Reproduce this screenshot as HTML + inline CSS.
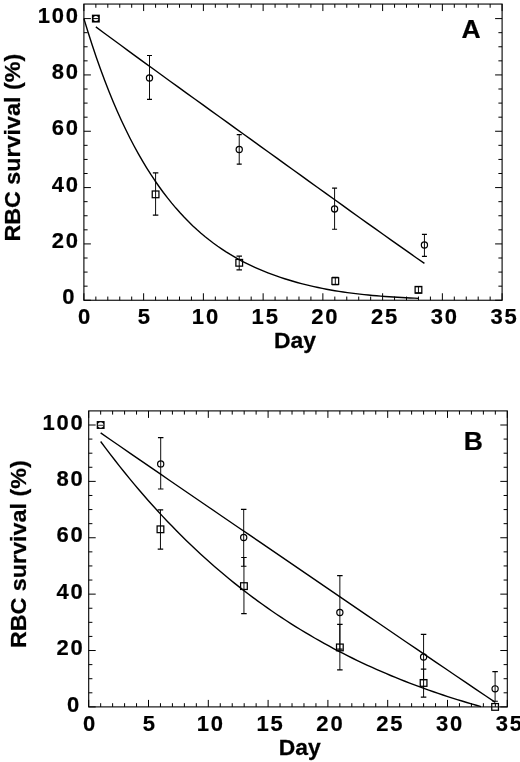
<!DOCTYPE html>
<html><head><meta charset="utf-8"><title>RBC survival</title>
<style>
html,body{margin:0;padding:0;background:#fff}
svg{display:block;will-change:transform}
text{font-family:"Liberation Sans",sans-serif;font-weight:bold;fill:#000}
.t{font-size:22px;letter-spacing:1.8px;stroke:#000;stroke-width:.2px}
.l{font-size:22px;stroke:#000;stroke-width:.25px}
.p{font-size:26.5px;stroke:#000;stroke-width:.2px}
</style></head><body>
<svg width="520" height="762" viewBox="0 0 520 762">
<rect width="520" height="762" fill="#fff"/>
<rect x="83.90" y="4.05" width="418.20" height="296.20" fill="none" stroke="#000" stroke-width="1.1"/>
<path d="M83.90 300.25v-7M83.90 4.05v7M95.85 300.25v-3.7M95.85 4.05v3.7M107.80 300.25v-3.7M107.80 4.05v3.7M119.75 300.25v-3.7M119.75 4.05v3.7M131.69 300.25v-3.7M131.69 4.05v3.7M143.64 300.25v-7M143.64 4.05v7M155.59 300.25v-3.7M155.59 4.05v3.7M167.54 300.25v-3.7M167.54 4.05v3.7M179.49 300.25v-3.7M179.49 4.05v3.7M191.44 300.25v-3.7M191.44 4.05v3.7M203.39 300.25v-7M203.39 4.05v7M215.33 300.25v-3.7M215.33 4.05v3.7M227.28 300.25v-3.7M227.28 4.05v3.7M239.23 300.25v-3.7M239.23 4.05v3.7M251.18 300.25v-3.7M251.18 4.05v3.7M263.13 300.25v-7M263.13 4.05v7M275.08 300.25v-3.7M275.08 4.05v3.7M287.03 300.25v-3.7M287.03 4.05v3.7M298.97 300.25v-3.7M298.97 4.05v3.7M310.92 300.25v-3.7M310.92 4.05v3.7M322.87 300.25v-7M322.87 4.05v7M334.82 300.25v-3.7M334.82 4.05v3.7M346.77 300.25v-3.7M346.77 4.05v3.7M358.72 300.25v-3.7M358.72 4.05v3.7M370.67 300.25v-3.7M370.67 4.05v3.7M382.61 300.25v-7M382.61 4.05v7M394.56 300.25v-3.7M394.56 4.05v3.7M406.51 300.25v-3.7M406.51 4.05v3.7M418.46 300.25v-3.7M418.46 4.05v3.7M430.41 300.25v-3.7M430.41 4.05v3.7M442.36 300.25v-7M442.36 4.05v7M454.31 300.25v-3.7M454.31 4.05v3.7M466.25 300.25v-3.7M466.25 4.05v3.7M478.20 300.25v-3.7M478.20 4.05v3.7M490.15 300.25v-3.7M490.15 4.05v3.7M502.10 300.25v-7M502.10 4.05v7M83.90 300.25h7M502.10 300.25h-7M83.90 286.17h3.7M502.10 286.17h-3.7M83.90 272.08h3.7M502.10 272.08h-3.7M83.90 258.00h3.7M502.10 258.00h-3.7M83.90 243.92h7M502.10 243.92h-7M83.90 229.84h3.7M502.10 229.84h-3.7M83.90 215.75h3.7M502.10 215.75h-3.7M83.90 201.67h3.7M502.10 201.67h-3.7M83.90 187.59h7M502.10 187.59h-7M83.90 173.51h3.7M502.10 173.51h-3.7M83.90 159.43h3.7M502.10 159.43h-3.7M83.90 145.34h3.7M502.10 145.34h-3.7M83.90 131.26h7M502.10 131.26h-7M83.90 117.18h3.7M502.10 117.18h-3.7M83.90 103.10h3.7M502.10 103.10h-3.7M83.90 89.01h3.7M502.10 89.01h-3.7M83.90 74.93h7M502.10 74.93h-7M83.90 60.85h3.7M502.10 60.85h-3.7M83.90 46.77h3.7M502.10 46.77h-3.7M83.90 32.68h3.7M502.10 32.68h-3.7M83.90 18.60h7M502.10 18.60h-7" stroke="#000" stroke-width="1" fill="none"/>
<text class="t" transform="translate(85.10,324.25) scale(1.0,1)" text-anchor="middle">0</text>
<text class="t" transform="translate(144.84,324.25) scale(1.0,1)" text-anchor="middle">5</text>
<text class="t" transform="translate(205.89,324.25) scale(1.0,1)" text-anchor="middle">10</text>
<text class="t" transform="translate(265.63,324.25) scale(1.0,1)" text-anchor="middle">15</text>
<text class="t" transform="translate(325.37,324.25) scale(1.0,1)" text-anchor="middle">20</text>
<text class="t" transform="translate(385.11,324.25) scale(1.0,1)" text-anchor="middle">25</text>
<text class="t" transform="translate(444.86,324.25) scale(1.0,1)" text-anchor="middle">30</text>
<text class="t" transform="translate(504.60,324.25) scale(1.0,1)" text-anchor="middle">35</text>
<text class="t" transform="translate(76.30,304.45) scale(1.0,1)" text-anchor="end">0</text>
<text class="t" transform="translate(79.75,248.12) scale(1.0,1)" text-anchor="end">20</text>
<text class="t" transform="translate(79.75,191.79) scale(1.0,1)" text-anchor="end">40</text>
<text class="t" transform="translate(79.75,135.46) scale(1.0,1)" text-anchor="end">60</text>
<text class="t" transform="translate(79.75,79.13) scale(1.0,1)" text-anchor="end">80</text>
<text class="t" transform="translate(79.75,22.80) scale(1.0,1)" text-anchor="end">100</text>
<path d="M95.85 26.85L104.06 32.94L112.28 39.01L120.49 45.05L128.71 51.07L136.92 57.08L145.14 63.06L153.35 69.04L161.57 75.00L169.78 80.95L178.00 86.89L186.21 92.82L194.42 98.75L202.64 104.68L210.85 110.60L219.07 116.52L227.28 122.44L235.50 128.35L243.71 134.27L251.93 140.18L260.14 146.10L268.36 152.01L276.57 157.92L284.79 163.84L293.00 169.75L301.21 175.66L309.43 181.58L317.64 187.48L325.86 193.39L334.07 199.29L342.29 205.18L350.50 211.07L358.72 216.95L366.93 222.82L375.15 228.67L383.36 234.51L391.58 240.34L399.79 246.15L408.00 251.94L416.22 257.70L424.43 263.44" stroke="#000" stroke-width="1.4" fill="none" stroke-linejoin="round"/>
<path d="M83.90 18.60L88.08 32.30L92.26 45.33L96.45 57.74L100.63 69.55L104.81 80.80L108.99 91.51L113.17 101.72L117.36 111.44L121.54 120.70L125.72 129.53L129.90 137.94L134.08 145.95L138.27 153.59L142.45 160.87L146.63 167.81L150.81 174.43L154.99 180.73L159.18 186.74L163.36 192.47L167.54 197.93L171.72 203.13L175.90 208.08L180.09 212.80L184.27 217.29L188.45 221.57L192.63 225.64L196.81 229.52L201.00 233.21L205.18 236.72L209.36 240.06L213.54 243.24L217.72 246.26L221.91 249.13L226.09 251.86L230.27 254.46L234.45 256.93L238.63 259.28L242.82 261.51L247.00 263.64L251.18 265.66L255.36 267.59L259.54 269.42L263.73 271.17L267.91 272.83L272.09 274.42L276.27 275.93L280.45 277.37L284.64 278.74L288.82 280.04L293.00 281.29L297.18 282.47L301.36 283.59L305.55 284.66L309.73 285.67L313.91 286.63L318.09 287.54L322.27 288.40L326.46 289.21L330.64 289.97L334.82 290.69L339.00 291.37L343.18 292.00L347.37 292.60L351.55 293.16L355.73 293.68L359.91 294.17L364.09 294.63L368.28 295.06L372.46 295.45L376.64 295.82L380.82 296.17L385.00 296.49L389.19 296.78L393.37 297.06L397.55 297.32L401.73 297.55L405.91 297.77L410.10 297.98L414.28 298.17L418.46 298.34" stroke="#000" stroke-width="1.4" fill="none" stroke-linejoin="round"/>
<rect x="91.90" y="14.65" width="7.9" height="7.9" fill="#000"/><circle cx="95.85" cy="18.60" r="2.5" fill="#fff"/><path d="M92.85 18.60h6" stroke="#000" stroke-width="1"/>
<path d="M155.59 172.94V215.19" stroke="#000" stroke-width="0.95" fill="none"/><path d="M152.84 172.94h5.5M152.84 215.19h5.5" stroke="#000" stroke-width="1.2" fill="none"/>
<rect x="152.24" y="191.00" width="6.7" height="6.7" fill="none" stroke="#000" stroke-width="1.25"/>
<path d="M239.23 256.03V269.83" stroke="#000" stroke-width="0.95" fill="none"/><path d="M236.48 256.03h5.5M236.48 269.83h5.5" stroke="#000" stroke-width="1.2" fill="none"/>
<rect x="235.88" y="259.44" width="6.7" height="6.7" fill="none" stroke="#000" stroke-width="1.25"/>
<path d="M335.30 277.44V284.76" stroke="#000" stroke-width="0.95" fill="none"/><path d="M332.05 277.44h6.5M332.05 284.76h6.5" stroke="#000" stroke-width="1.2" fill="none"/>
<rect x="331.95" y="277.75" width="6.7" height="6.7" fill="none" stroke="#000" stroke-width="1.25"/>
<path d="M418.46 286.73V292.93" stroke="#000" stroke-width="0.95" fill="none"/><path d="M415.21 286.73h6.5M415.21 292.93h6.5" stroke="#000" stroke-width="1.2" fill="none"/>
<rect x="415.11" y="286.48" width="6.7" height="6.7" fill="none" stroke="#000" stroke-width="1.25"/>
<path d="M149.50 55.50V99.43" stroke="#000" stroke-width="0.95" fill="none"/><path d="M147.00 55.50h5.0M147.00 99.43h5.0" stroke="#000" stroke-width="1.2" fill="none"/>
<circle cx="149.50" cy="78.03" r="3.1" fill="none" stroke="#000" stroke-width="1.2"/>
<path d="M239.23 134.64V164.21" stroke="#000" stroke-width="0.95" fill="none"/><path d="M236.73 134.64h5.0M236.73 164.21h5.0" stroke="#000" stroke-width="1.2" fill="none"/>
<circle cx="239.23" cy="149.57" r="3.1" fill="none" stroke="#000" stroke-width="1.2"/>
<path d="M334.58 188.15V229.27" stroke="#000" stroke-width="0.95" fill="none"/><path d="M332.08 188.15h5.0M332.08 229.27h5.0" stroke="#000" stroke-width="1.2" fill="none"/>
<circle cx="334.58" cy="209.00" r="3.1" fill="none" stroke="#000" stroke-width="1.2"/>
<path d="M424.43 234.34V256.31" stroke="#000" stroke-width="0.95" fill="none"/><path d="M421.93 234.34h5.0M421.93 256.31h5.0" stroke="#000" stroke-width="1.2" fill="none"/>
<circle cx="424.43" cy="245.05" r="3.1" fill="none" stroke="#000" stroke-width="1.2"/>
<rect x="88.70" y="410.90" width="418.60" height="296.00" fill="none" stroke="#000" stroke-width="1.1"/>
<path d="M88.70 706.90v-7M88.70 410.90v7M100.66 706.90v-3.7M100.66 410.90v3.7M112.62 706.90v-3.7M112.62 410.90v3.7M124.58 706.90v-3.7M124.58 410.90v3.7M136.54 706.90v-3.7M136.54 410.90v3.7M148.50 706.90v-7M148.50 410.90v7M160.46 706.90v-3.7M160.46 410.90v3.7M172.42 706.90v-3.7M172.42 410.90v3.7M184.38 706.90v-3.7M184.38 410.90v3.7M196.34 706.90v-3.7M196.34 410.90v3.7M208.30 706.90v-7M208.30 410.90v7M220.26 706.90v-3.7M220.26 410.90v3.7M232.22 706.90v-3.7M232.22 410.90v3.7M244.18 706.90v-3.7M244.18 410.90v3.7M256.14 706.90v-3.7M256.14 410.90v3.7M268.10 706.90v-7M268.10 410.90v7M280.06 706.90v-3.7M280.06 410.90v3.7M292.02 706.90v-3.7M292.02 410.90v3.7M303.98 706.90v-3.7M303.98 410.90v3.7M315.94 706.90v-3.7M315.94 410.90v3.7M327.90 706.90v-7M327.90 410.90v7M339.86 706.90v-3.7M339.86 410.90v3.7M351.82 706.90v-3.7M351.82 410.90v3.7M363.78 706.90v-3.7M363.78 410.90v3.7M375.74 706.90v-3.7M375.74 410.90v3.7M387.70 706.90v-7M387.70 410.90v7M399.66 706.90v-3.7M399.66 410.90v3.7M411.62 706.90v-3.7M411.62 410.90v3.7M423.58 706.90v-3.7M423.58 410.90v3.7M435.54 706.90v-3.7M435.54 410.90v3.7M447.50 706.90v-7M447.50 410.90v7M459.46 706.90v-3.7M459.46 410.90v3.7M471.42 706.90v-3.7M471.42 410.90v3.7M483.38 706.90v-3.7M483.38 410.90v3.7M495.34 706.90v-3.7M495.34 410.90v3.7M507.30 706.90v-7M507.30 410.90v7M88.70 706.90h7M507.30 706.90h-7M88.70 692.80h3.7M507.30 692.80h-3.7M88.70 678.71h3.7M507.30 678.71h-3.7M88.70 664.62h3.7M507.30 664.62h-3.7M88.70 650.52h7M507.30 650.52h-7M88.70 636.42h3.7M507.30 636.42h-3.7M88.70 622.33h3.7M507.30 622.33h-3.7M88.70 608.24h3.7M507.30 608.24h-3.7M88.70 594.14h7M507.30 594.14h-7M88.70 580.04h3.7M507.30 580.04h-3.7M88.70 565.95h3.7M507.30 565.95h-3.7M88.70 551.86h3.7M507.30 551.86h-3.7M88.70 537.76h7M507.30 537.76h-7M88.70 523.66h3.7M507.30 523.66h-3.7M88.70 509.57h3.7M507.30 509.57h-3.7M88.70 495.48h3.7M507.30 495.48h-3.7M88.70 481.38h7M507.30 481.38h-7M88.70 467.28h3.7M507.30 467.28h-3.7M88.70 453.19h3.7M507.30 453.19h-3.7M88.70 439.09h3.7M507.30 439.09h-3.7M88.70 425.00h7M507.30 425.00h-7" stroke="#000" stroke-width="1" fill="none"/>
<text class="t" transform="translate(89.90,730.90) scale(1.0,1)" text-anchor="middle">0</text>
<text class="t" transform="translate(149.70,730.90) scale(1.0,1)" text-anchor="middle">5</text>
<text class="t" transform="translate(210.80,730.90) scale(1.0,1)" text-anchor="middle">10</text>
<text class="t" transform="translate(270.60,730.90) scale(1.0,1)" text-anchor="middle">15</text>
<text class="t" transform="translate(330.40,730.90) scale(1.0,1)" text-anchor="middle">20</text>
<text class="t" transform="translate(390.20,730.90) scale(1.0,1)" text-anchor="middle">25</text>
<text class="t" transform="translate(450.00,730.90) scale(1.0,1)" text-anchor="middle">30</text>
<text class="t" transform="translate(509.80,730.90) scale(1.0,1)" text-anchor="middle">35</text>
<text class="t" transform="translate(81.10,711.50) scale(1.0,1)" text-anchor="end">0</text>
<text class="t" transform="translate(84.55,655.12) scale(1.0,1)" text-anchor="end">20</text>
<text class="t" transform="translate(84.55,598.74) scale(1.0,1)" text-anchor="end">40</text>
<text class="t" transform="translate(84.55,542.36) scale(1.0,1)" text-anchor="end">60</text>
<text class="t" transform="translate(84.55,485.98) scale(1.0,1)" text-anchor="end">80</text>
<text class="t" transform="translate(84.55,429.60) scale(1.0,1)" text-anchor="end">100</text>
<path d="M100.66 432.89L110.53 439.72L120.39 446.54L130.26 453.34L140.13 460.14L150.00 466.92L159.86 473.70L169.73 480.47L179.60 487.23L189.46 493.98L199.33 500.74L209.20 507.48L219.06 514.23L228.93 520.97L238.80 527.71L248.67 534.45L258.53 541.19L268.40 547.93L278.27 554.67L288.13 561.40L298.00 568.14L307.87 574.88L317.73 581.62L327.60 588.35L337.47 595.09L347.33 601.83L357.20 608.56L367.07 615.30L376.94 622.03L386.80 628.76L396.67 635.48L406.54 642.21L416.40 648.93L426.27 655.64L436.14 662.35L446.00 669.04L455.87 675.74L465.74 682.42L475.61 689.09L485.47 695.74L495.34 702.39" stroke="#000" stroke-width="1.4" fill="none" stroke-linejoin="round"/>
<path d="M100.66 441.50L105.41 447.88L110.17 454.14L114.92 460.30L119.68 466.35L124.43 472.28L129.18 478.12L133.94 483.85L138.69 489.47L143.45 495.00L148.20 500.42L152.96 505.75L157.71 510.97L162.46 516.11L167.22 521.15L171.97 526.09L176.73 530.95L181.48 535.71L186.23 540.39L190.99 544.98L195.74 549.48L200.50 553.90L205.25 558.24L210.00 562.50L214.76 566.67L219.51 570.77L224.27 574.79L229.02 578.73L233.77 582.60L238.53 586.39L243.28 590.11L248.04 593.76L252.79 597.34L257.55 600.85L262.30 604.29L267.05 607.66L271.81 610.97L276.56 614.22L281.32 617.40L286.07 620.52L290.82 623.58L295.58 626.58L300.33 629.52L305.09 632.40L309.84 635.22L314.59 637.99L319.35 640.71L324.10 643.37L328.86 645.98L333.61 648.53L338.36 651.04L343.12 653.49L347.87 655.90L352.63 658.25L357.38 660.56L362.14 662.83L366.89 665.04L371.64 667.22L376.40 669.35L381.15 671.43L385.91 673.48L390.66 675.48L395.41 677.44L400.17 679.36L404.92 681.25L409.68 683.09L414.43 684.90L419.18 686.67L423.94 688.40L428.69 690.10L433.45 691.76L438.20 693.39L442.96 694.99L447.71 696.55L452.46 698.08L457.22 699.58L461.97 701.04L466.73 702.48L471.48 703.89L476.23 705.26L480.99 706.61" stroke="#000" stroke-width="1.4" fill="none" stroke-linejoin="round"/>
<rect x="96.71" y="421.05" width="7.9" height="7.9" fill="#000"/><circle cx="100.66" cy="425.00" r="2.8" fill="#fff"/><path d="M97.66 425.30h6" stroke="#000" stroke-width="0.8"/>
<path d="M160.46 509.85V549.04" stroke="#000" stroke-width="0.95" fill="none"/><path d="M157.71 509.85h5.5M157.71 549.04h5.5" stroke="#000" stroke-width="1.2" fill="none"/>
<rect x="157.11" y="525.95" width="6.7" height="6.7" fill="none" stroke="#000" stroke-width="1.25"/>
<path d="M243.94 557.49V613.59" stroke="#000" stroke-width="0.95" fill="none"/><path d="M241.19 557.49h5.5M241.19 613.59h5.5" stroke="#000" stroke-width="1.2" fill="none"/>
<rect x="240.59" y="582.76" width="6.7" height="6.7" fill="none" stroke="#000" stroke-width="1.25"/>
<path d="M339.86 624.30V669.97" stroke="#000" stroke-width="0.95" fill="none"/><path d="M337.11 624.30h5.5M337.11 669.97h5.5" stroke="#000" stroke-width="1.2" fill="none"/>
<rect x="336.51" y="644.07" width="6.7" height="6.7" fill="none" stroke="#000" stroke-width="1.25"/>
<path d="M423.58 669.13V697.03" stroke="#000" stroke-width="0.95" fill="none"/><path d="M420.83 669.13h5.5M420.83 697.03h5.5" stroke="#000" stroke-width="1.2" fill="none"/>
<rect x="420.23" y="679.59" width="6.7" height="6.7" fill="none" stroke="#000" stroke-width="1.25"/>
<rect x="491.75" y="703.55" width="6.7" height="6.7" fill="none" stroke="#000" stroke-width="1.25"/>
<path d="M160.70 437.69V488.99" stroke="#000" stroke-width="0.95" fill="none"/><path d="M157.95 437.69h5.5M157.95 488.99h5.5" stroke="#000" stroke-width="1.2" fill="none"/>
<circle cx="160.70" cy="463.90" r="3.1" fill="none" stroke="#000" stroke-width="1.2"/>
<path d="M243.70 509.29V566.23" stroke="#000" stroke-width="0.95" fill="none"/><path d="M240.95 509.29h5.5M240.95 566.23h5.5" stroke="#000" stroke-width="1.2" fill="none"/>
<circle cx="243.70" cy="537.48" r="3.1" fill="none" stroke="#000" stroke-width="1.2"/>
<path d="M339.86 575.53V649.11" stroke="#000" stroke-width="0.95" fill="none"/><path d="M337.11 575.53h5.5M337.11 649.11h5.5" stroke="#000" stroke-width="1.2" fill="none"/>
<circle cx="339.86" cy="612.46" r="3.1" fill="none" stroke="#000" stroke-width="1.2"/>
<path d="M423.58 634.45V679.56" stroke="#000" stroke-width="0.95" fill="none"/><path d="M420.83 634.45h5.5M420.83 679.56h5.5" stroke="#000" stroke-width="1.2" fill="none"/>
<circle cx="423.58" cy="657.00" r="3.1" fill="none" stroke="#000" stroke-width="1.2"/>
<path d="M495.10 671.66V701.26" stroke="#000" stroke-width="0.95" fill="none"/><path d="M492.35 671.66h5.5M492.35 701.26h5.5" stroke="#000" stroke-width="1.2" fill="none"/>
<circle cx="495.10" cy="688.86" r="3.1" fill="none" stroke="#000" stroke-width="1.2"/>
<text class="p" x="461.4" y="37.7">A</text>
<text class="p" x="463.8" y="450.3">B</text>
<text class="l" transform="translate(295,348) scale(1.04,1)" text-anchor="middle">Day</text>
<text class="l" transform="translate(299.8,754.8) scale(1.04,1)" text-anchor="middle">Day</text>
<text class="l yl" transform="translate(20,147.7) rotate(-90) scale(1.06,1)" text-anchor="middle">RBC survival (%)</text>
<text class="l yl" transform="translate(25.6,554.2) rotate(-90) scale(1.06,1)" text-anchor="middle">RBC survival (%)</text>
</svg>
</body></html>
